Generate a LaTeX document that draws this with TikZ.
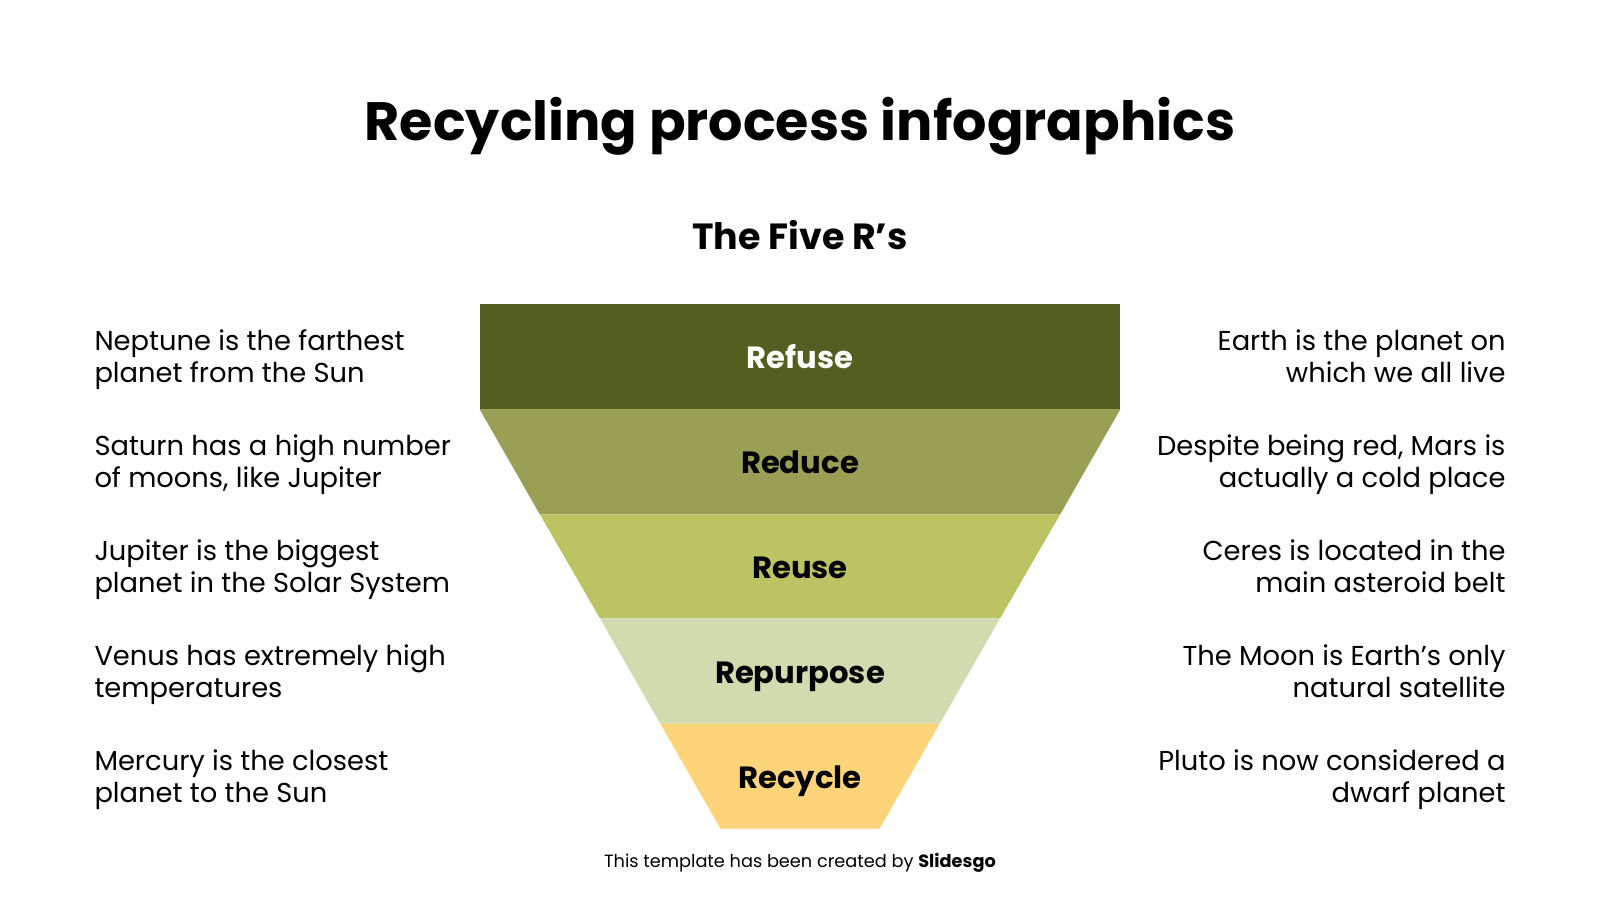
\documentclass[tikz,border=0pt]{standalone}
\usepackage{fontspec}
\setmainfont{Poppins}
\tikzset{every picture/.style={line width=0.75pt}}
\tikzset{
  sidetext/.style={inner sep=0pt, font=\fontsize{20.5}{24}\selectfont},
  bandlabel/.style={inner sep=0pt, text height=17pt, text depth=0pt, font=\fontsize{23}{27}\selectfont\bfseries}
}

\begin{document}
\begin{tikzpicture}[x=0.75pt,y=0.75pt,yscale=-1,xscale=1]
\useasboundingbox (0,0) rectangle (1600,900);

% Text Node
\draw (800,126) node [inner sep=0pt, font=\fontsize{40.5}{48}\selectfont\bfseries] (title) {Recycling process infographics};
% Text Node
\draw (800,235) node [inner sep=0pt, font=\fontsize{27.3}{32}\selectfont\bfseries] (subtitle) {The Five R’s};

% Shape: Refuse
\draw [draw opacity=0, fill={rgb, 255:red, 83; green, 94; blue, 32 }] (479.6,304.1) -- (1120.4,304.1) -- (1120.4,409.2) -- (479.6,409.2) -- cycle ;
% Shape: Reduce
\draw [draw opacity=0, fill={rgb, 255:red, 153; green, 160; blue, 85 }] (479.6,409.2) -- (1120.4,409.2) -- (1060.2,514.3) -- (539.8,514.3) -- cycle ;
% Shape: Reuse
\draw [draw opacity=0, fill={rgb, 255:red, 187; green, 195; blue, 99 }] (539.8,514.3) -- (1060.2,514.3) -- (1000,618.4) -- (600,618.4) -- cycle ;
% Shape: Repurpose
\draw [draw opacity=0, fill={rgb, 255:red, 208; green, 219; blue, 176 }] (600,618.4) -- (1000,618.4) -- (939.8,723.5) -- (660.2,723.5) -- cycle ;
% Shape: Recycle
\draw [draw opacity=0, fill={rgb, 255:red, 253; green, 212; blue, 122 }] (660.2,723.5) -- (939.8,723.5) -- (879.6,828.6) -- (720.4,828.6) -- cycle ;

% Text Node
\draw (800,357) node [bandlabel, text=white] (refuse) {Refuse};
% Text Node
\draw (800,462) node [bandlabel] (reduce) {Reduce};
% Text Node
\draw (800,567) node [bandlabel] (reuse) {Reuse};
% Text Node
\draw (800,672) node [bandlabel] (repurpose) {Repurpose};
% Text Node
\draw (800,777) node [bandlabel] (recycle) {Recycle};

% Text Node
\draw (94,360) node [sidetext, anchor=west, align=left] (neptune) {Neptune is the farthest\strut\\planet from the Sun\strut};
% Text Node
\draw (94,465) node [sidetext, anchor=west, align=left] (saturn) {Saturn has a high number\strut\\of moons, like Jupiter\strut};
% Text Node
\draw (94,570) node [sidetext, anchor=west, align=left] (jupiter) {Jupiter is the biggest\strut\\planet in the Solar System\strut};
% Text Node
\draw (94,675) node [sidetext, anchor=west, align=left] (venus) {Venus has extremely high\strut\\temperatures\strut};
% Text Node
\draw (94,780) node [sidetext, anchor=west, align=left] (mercury) {Mercury is the closest\strut\\planet to the Sun\strut};

% Text Node
\draw (1506,360) node [sidetext, anchor=east, align=right] (earth) {Earth is the planet on\strut\\which we all live\strut};
% Text Node
\draw (1506,465) node [sidetext, anchor=east, align=right] (mars) {Despite being red, Mars is\strut\\actually a cold place\strut};
% Text Node
\draw (1506,570) node [sidetext, anchor=east, align=right] (ceres) {Ceres is located in the\strut\\main asteroid belt\strut};
% Text Node
\draw (1506,675) node [sidetext, anchor=east, align=right] (moon) {The Moon is Earth’s only\strut\\natural satellite\strut};
% Text Node
\draw (1506,780) node [sidetext, anchor=east, align=right] (pluto) {Pluto is now considered a\strut\\dwarf planet\strut};

% Text Node
\draw (800,863) node [inner sep=0pt, font=\fontsize{13.3}{16}\selectfont] (credit) {This template has been created by \textbf{Slidesgo}};

\end{tikzpicture}
\end{document}
